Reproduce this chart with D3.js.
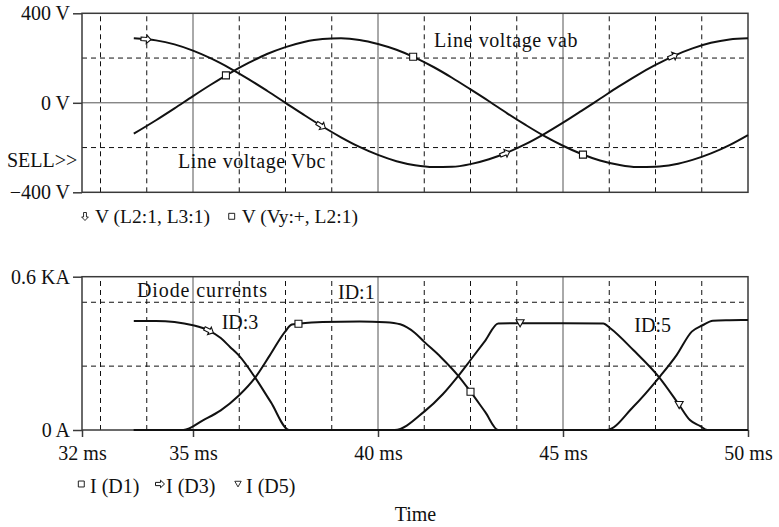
<!DOCTYPE html>
<html>
<head>
<meta charset="utf-8">
<script src="https://cdn.jsdelivr.net/npm/d3@7"></script>
<style>
  body { margin: 0; background: #fff; }
  text { font-family: "Liberation Serif", "Times New Roman", serif; fill: #111; }
</style>
</head>
<body>
<svg id="chart" width="779" height="527"></svg>
<script>
// ---- time axis ----
const timeTicks = [32, 35, 40, 45, 50];
const timeTickLabels = ["32 ms", "35 ms", "40 ms", "45 ms", "50 ms"];
const timeGridMajor = [35, 40, 45];
const timeGridMinor = [32.5, 33.75, 36.25, 37.5, 38.75, 41.25, 42.5, 43.75, 46.25, 47.5, 48.75];

// ---- line voltages (V) ----
const voltTime = [33.4, 34, 34.5, 35, 35.5, 36, 36.5, 37, 37.5, 38, 38.5, 39, 39.5, 40, 40.5, 41,
                  41.5, 42, 42.5, 43, 43.5, 44, 44.5, 45, 45.5, 46, 46.5, 47, 47.5, 48, 48.5, 49, 49.5, 50];
const vbc = [288, 279, 261, 233, 197, 154, 106, 54, 0, -54, -106, -154, -197, -233, -261, -279,
             -287, -286, -274, -252, -222, -184, -139, -89, -36, 18, 72, 123, 169, 210, 243, 268, 283, 288];
const vab = [-138, -78, -25, 30, 83, 133, 178, 218, 249, 272, 285, 288, 281, 263, 237, 202,
             160, 112, 60, 7, -48, -100, -149, -192, -229, -258, -277, -287, -286, -276, -255, -226, -189, -144];
const voltTicks = [-400, 0, 400];
const voltTickLabels = ["\u2212400 V", "0 V", "400 V"];
const voltGridMinor = [-200, 200];
const voltGridMajor = [0];
const vbcMarkerTimes = [33.73, 38.46, 43.43, 47.97];
const vabMarkerTimes = [35.89, 40.95, 45.54];

// ---- diode currents (KA), [time ms, current] ----
const id1 = [[33.4, 0], [34.74, 0], [35.28, 0.039], [35.75, 0.077], [36.24, 0.135], [36.68, 0.205],
             [37.08, 0.293], [37.49, 0.385], [37.67, 0.413], [37.85, 0.416], [38.5, 0.423], [39.5, 0.425],
             [40.2, 0.422], [40.6, 0.414], [41.0, 0.38], [41.25, 0.345], [41.7, 0.285], [42.17, 0.212],
             [42.5, 0.15], [42.9, 0.07], [43.25, 0], [50, 0]];
const id3 = [[33.4, 0.427], [34.0, 0.427], [34.5, 0.423], [35.0, 0.41], [35.43, 0.389], [35.75, 0.36],
             [36.0, 0.325], [36.25, 0.29], [36.68, 0.205], [37.1, 0.11], [37.6, 0], [46.18, 0],
             [46.9, 0.091], [47.6, 0.206], [48.07, 0.293], [48.48, 0.385], [48.77, 0.41], [49.05, 0.428],
             [49.5, 0.43], [50, 0.431]];
const id5 = [[33.4, 0], [40.45, 0], [41.25, 0.072], [41.75, 0.14], [42.17, 0.212], [42.5, 0.274],
             [42.9, 0.35], [43.25, 0.417], [43.84, 0.418], [45, 0.418], [46.09, 0.417], [46.27, 0.399],
             [46.9, 0.313], [47.6, 0.206], [48.14, 0.098], [48.43, 0.039], [48.7, 0.016], [48.9, 0], [50, 0]];
const ampTicks = [0, 0.6];
const ampTickLabels = ["0 A", "0.6 KA"];
const ampGridMinor = [0.25, 0.5];
const id1MarkerTimes = [37.85, 42.5];
const id3MarkerTimes = [35.43];
const id5MarkerTimes = [43.84, 48.14];

// ---- layout ----
const svg = d3.select("#chart");
const x = d3.scaleLinear().domain([32, 50]).range([82, 748]);
const yV = d3.scaleLinear().domain([-400, 400]).range([192.3, 13.3]);
const yI = d3.scaleLinear().domain([0, 0.6]).range([430, 276.7]);

const FONT = 20;
const INK = "#111";
const FRAME = "#3a3a3a";

// marker glyphs, centred on the origin
const arrowGlyph = "M-5,-1.8H0.6V-4.2L5,0L0.6,4.2V1.8H-5Z";
const triangleGlyph = "M-4,-3.4H4L0,3.6Z";
const squareGlyph = "M-3.5,-3.5H3.5V3.5H-3.5Z";

function drawGrid(g, yScale, minorY, majorY) {
  const [y0, y1] = yScale.range();
  g.selectAll(".vmin").data(timeGridMinor).join("line")
    .attr("x1", d => x(d)).attr("x2", d => x(d)).attr("y1", y0).attr("y2", y1)
    .attr("stroke", INK).attr("stroke-width", 1).attr("stroke-dasharray", "5,4");
  g.selectAll(".hmin").data(minorY).join("line")
    .attr("x1", x.range()[0]).attr("x2", x.range()[1]).attr("y1", d => yScale(d)).attr("y2", d => yScale(d))
    .attr("stroke", INK).attr("stroke-width", 1).attr("stroke-dasharray", "5,4");
  g.selectAll(".vmaj").data(timeGridMajor).join("line")
    .attr("x1", d => x(d)).attr("x2", d => x(d)).attr("y1", y0).attr("y2", y1)
    .attr("stroke", "#555").attr("stroke-width", 1);
  g.selectAll(".hmaj").data(majorY).join("line")
    .attr("x1", x.range()[0]).attr("x2", x.range()[1]).attr("y1", d => yScale(d)).attr("y2", d => yScale(d))
    .attr("stroke", "#555").attr("stroke-width", 1);
}

function drawFrame(g, yScale) {
  const [yb, yt] = yScale.range();
  g.append("rect")
    .attr("x", x.range()[0]).attr("y", yt)
    .attr("width", x.range()[1] - x.range()[0]).attr("height", yb - yt)
    .attr("fill", "none").attr("stroke", FRAME).attr("stroke-width", 1.5);
}

function styleAxis(g) {
  g.attr("font-family", null).attr("font-size", null);
  g.select(".domain").remove();
  g.selectAll(".tick line").attr("stroke", FRAME).attr("stroke-width", 1.5);
  g.selectAll(".tick text").attr("fill", INK).style("font-size", FONT + "px");
}

// locate a point on a drawn path at a given x, plus its local direction
function pointAtX(pathNode, px) {
  const L = pathNode.getTotalLength();
  let lo = 0, hi = L;
  for (let i = 0; i < 40; i++) {
    const mid = (lo + hi) / 2;
    if (pathNode.getPointAtLength(mid).x < px) lo = mid; else hi = mid;
  }
  const l = (lo + hi) / 2;
  const p = pathNode.getPointAtLength(l);
  const a = pathNode.getPointAtLength(Math.max(0, l - 2));
  const b = pathNode.getPointAtLength(Math.min(L, l + 2));
  return { x: p.x, y: p.y, angle: Math.atan2(b.y - a.y, b.x - a.x) * 180 / Math.PI };
}

function drawMarkers(g, pathNode, times, glyph, rotate) {
  times.forEach(t => {
    const p = pointAtX(pathNode, x(t));
    g.append("path")
      .attr("d", glyph)
      .attr("transform", `translate(${p.x},${p.y})` + (rotate ? ` rotate(${p.angle})` : ""))
      .attr("fill", "#fff").attr("stroke", INK).attr("stroke-width", 1.1);
  });
}

const curveLine = d3.line().curve(d3.curveMonotoneX);

// ================= upper panel: line voltages =================
const upper = svg.append("g");
drawGrid(upper, yV, voltGridMinor, voltGridMajor);
drawFrame(upper, yV);

upper.append("g").attr("transform", `translate(${x.range()[0]},0)`)
  .call(d3.axisLeft(yV).tickValues(voltTicks).tickSize(9).tickPadding(3)
    .tickFormat((d, i) => voltTickLabels[i]))
  .call(styleAxis);

const vbcPath = upper.append("path")
  .attr("d", curveLine(voltTime.map((t, i) => [x(t), yV(vbc[i])])))
  .attr("fill", "none").attr("stroke", INK).attr("stroke-width", 2);
const vabPath = upper.append("path")
  .attr("d", curveLine(voltTime.map((t, i) => [x(t), yV(vab[i])])))
  .attr("fill", "none").attr("stroke", INK).attr("stroke-width", 2);

drawMarkers(upper, vbcPath.node(), vbcMarkerTimes, arrowGlyph, true);
drawMarkers(upper, vabPath.node(), vabMarkerTimes, squareGlyph, false);

upper.append("text").attr("x", 434).attr("y", 46.5).style("font-size", FONT + "px")
  .style("letter-spacing", "0.6px").text("Line voltage vab");
upper.append("text").attr("x", 178).attr("y", 168.3).style("font-size", FONT + "px")
  .style("letter-spacing", "0.6px").text("Line voltage Vbc");
upper.append("text").attr("x", 7).attr("y", 167).style("font-size", FONT + "px").text("SELL>>");

// upper legend
const legV = svg.append("g");
legV.append("path").attr("d", arrowGlyph)
  .attr("transform", "translate(85,216.5) rotate(90) scale(0.8)")
  .attr("fill", "#fff").attr("stroke", INK).attr("stroke-width", 1.1);
legV.append("text").attr("x", 95).attr("y", 223.3).style("font-size", "19.5px").text("V (L2:1, L3:1)");
legV.append("path").attr("d", squareGlyph)
  .attr("transform", "translate(231.7,216.3) scale(0.85)")
  .attr("fill", "#fff").attr("stroke", INK).attr("stroke-width", 1.1);
legV.append("text").attr("x", 241.7).attr("y", 223.3).style("font-size", "19.5px").text("V (Vy:+, L2:1)");

// ================= lower panel: diode currents =================
const lower = svg.append("g");
drawGrid(lower, yI, ampGridMinor, []);
drawFrame(lower, yI);

lower.append("g").attr("transform", `translate(${x.range()[0]},0)`)
  .call(d3.axisLeft(yI).tickValues(ampTicks).tickSize(9).tickPadding(3)
    .tickFormat((d, i) => ampTickLabels[i]))
  .call(styleAxis);

lower.append("g").attr("transform", `translate(0,${yI.range()[0]})`)
  .call(d3.axisBottom(x).tickValues(timeTicks).tickSize(7).tickPadding(9)
    .tickFormat((d, i) => timeTickLabels[i]))
  .call(styleAxis);

const id1Path = lower.append("path")
  .attr("d", curveLine(id1.map(d => [x(d[0]), yI(d[1])])))
  .attr("fill", "none").attr("stroke", INK).attr("stroke-width", 2);
const id3Path = lower.append("path")
  .attr("d", curveLine(id3.map(d => [x(d[0]), yI(d[1])])))
  .attr("fill", "none").attr("stroke", INK).attr("stroke-width", 2);
const id5Path = lower.append("path")
  .attr("d", curveLine(id5.map(d => [x(d[0]), yI(d[1])])))
  .attr("fill", "none").attr("stroke", INK).attr("stroke-width", 2);

drawMarkers(lower, id1Path.node(), id1MarkerTimes, squareGlyph, false);
drawMarkers(lower, id3Path.node(), id3MarkerTimes, arrowGlyph, true);
drawMarkers(lower, id5Path.node(), id5MarkerTimes, triangleGlyph, false);

lower.append("text").attr("x", 137).attr("y", 297).style("font-size", FONT + "px")
  .style("letter-spacing", "0.9px").text("Diode currents");
lower.append("text").attr("x", 338).attr("y", 299).style("font-size", FONT + "px").text("ID:1");
lower.append("text").attr("x", 221.7).attr("y", 329.3).style("font-size", FONT + "px").text("ID:3");
lower.append("text").attr("x", 634.3).attr("y", 331.7).style("font-size", FONT + "px").text("ID:5");

// lower legend
const legI = svg.append("g");
legI.append("path").attr("d", squareGlyph)
  .attr("transform", "translate(81.3,484) scale(0.85)")
  .attr("fill", "#fff").attr("stroke", INK).attr("stroke-width", 1.1);
legI.append("text").attr("x", 90).attr("y", 493.3).style("font-size", FONT + "px").text("I (D1)");
legI.append("path").attr("d", arrowGlyph)
  .attr("transform", "translate(160,484) scale(0.9)")
  .attr("fill", "#fff").attr("stroke", INK).attr("stroke-width", 1.1);
legI.append("text").attr("x", 166).attr("y", 493.3).style("font-size", FONT + "px").text("I (D3)");
legI.append("path").attr("d", triangleGlyph)
  .attr("transform", "translate(238,484) scale(0.8)")
  .attr("fill", "#fff").attr("stroke", INK).attr("stroke-width", 1.1);
legI.append("text").attr("x", 246).attr("y", 493.3).style("font-size", FONT + "px").text("I (D5)");

// x-axis title
svg.append("text").attr("x", 415.5).attr("y", 521).attr("text-anchor", "middle")
  .style("font-size", "20px").text("Time");
</script>
</body>
</html>
